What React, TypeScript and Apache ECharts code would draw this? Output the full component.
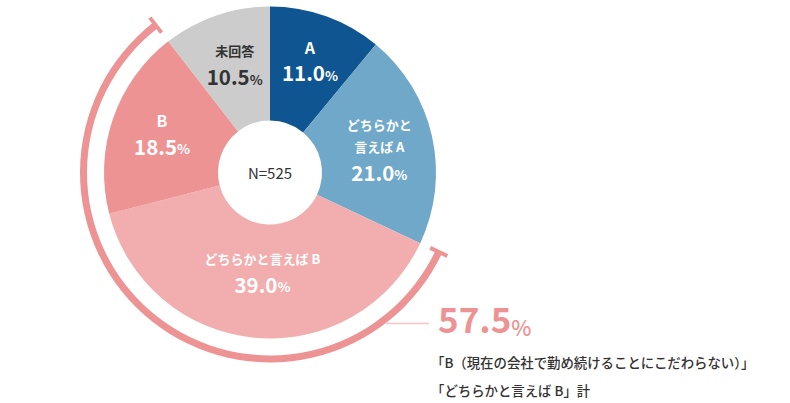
import React, { useEffect, useRef } from "react";
import * as echarts from "echarts";

const categories = ["A", "どちらかと言えばA", "どちらかと言えばB", "B", "未回答"];
const labelTexts = ["A", "どちらかと\n言えば A", "どちらかと言えば B", "B", "未回答"];
const values = [11.0, 21.0, 39.0, 18.5, 10.5];
const sampleSize = 525;
const groupIdx = [2, 3];
const noteLines = [
  "「B（現在の会社で勤め続けることにこだわらない）」",
  "「どちらかと言えば B」計",
];

const COLORS = ["#0e5592", "#6fa8c9", "#f2aeae", "#ee9393", "#cccccc"];
const PINK = "#ee9393";
const FONT = "'Noto Sans CJK JP', 'Noto Sans', sans-serif";
const CX = 270;
const CY = 172.5;
const R0 = 52;
const R1 = 166;
const AR0 = 183;
const AR1 = 190;
const LABEL_OFF = [
  [2, -8],
  [0, -0.5],
  [3, -13.5],
  [-2, -3.5],
  [1, -3.5],
];

export default function App() {
  const ref = useRef<HTMLDivElement>(null);
  useEffect(() => {
    if (!ref.current) return;
    const chart = echarts.init(ref.current, null, { renderer: "svg" });
    const total = values.reduce((a, b) => a + b, 0);
    const before = values.slice(0, groupIdx[0]).reduce((a, b) => a + b, 0);
    const groupSum = groupIdx.reduce((a, i) => a + values[i], 0);
    const startA = 90 - (before / total) * 360;
    const endA = startA - (groupSum / total) * 360;
    const tick = (aDeg: number) => {
      const a = (aDeg * Math.PI) / 180;
      const r1 = AR0 - 6;
      const r2 = AR1 + 6;
      return {
        type: "line",
        shape: {
          x1: CX + r1 * Math.cos(a),
          y1: CY - r1 * Math.sin(a),
          x2: CX + r2 * Math.cos(a),
          y2: CY - r2 * Math.sin(a),
        },
        style: { stroke: PINK, lineWidth: 4 },
      };
    };
    const pieData = categories.map((c, i) => ({
      name: c,
      value: values[i],
      itemStyle: { color: COLORS[i] },
    }));
    const mk = (color: string) => ({
      n: { color, fontSize: 13, fontWeight: "bold", lineHeight: 22, fontFamily: FONT },
      l: { color, fontSize: 16, fontWeight: "bold", lineHeight: 22, fontFamily: FONT },
      v: { color, fontSize: 20.5, fontWeight: "bold", lineHeight: 25, fontFamily: FONT, verticalAlign: "bottom" },
      p: { color, fontSize: 13.5, fontWeight: "bold", lineHeight: 25, fontFamily: FONT, verticalAlign: "bottom", padding: [0, 0, 1, 0] },
    });
    const white = mk("#fff");
    const dark = mk("#333");
    chart.setOption({
      animation: false,
      series: [
        {
          type: "pie",
          center: [CX, CY],
          radius: [R0, R1],
          startAngle: 90,
          clockwise: true,
          silent: true,
          data: pieData,
          itemStyle: { borderWidth: 0 },
          label: {
            show: true,
            position: "inside",
            fontFamily: FONT,
            formatter: (p: any) => {
              const d = p.dataIndex === 4 ? "d" : "";
              const lines = labelTexts[p.dataIndex]
                .split("\n")
                .map((l) => `{${d}${l.length === 1 ? "l" : "n"}|${l}}`)
                .join("\n");
              return `${lines}\n{${d}v|${values[p.dataIndex].toFixed(1)}}{${d}p|%}`;
            },
            rich: {
              ...white,
              dn: dark.n,
              dl: dark.l,
              dv: dark.v,
              dp: dark.p,
            },
          },
          labelLine: { show: false },
          labelLayout: (p: any) => ({ dx: LABEL_OFF[p.dataIndex][0], dy: LABEL_OFF[p.dataIndex][1] }),
        },
        {
          type: "pie",
          center: [CX, CY],
          radius: [AR0, AR1],
          startAngle: startA,
          clockwise: true,
          silent: true,
          label: { show: false },
          labelLine: { show: false },
          data: [
            { value: groupSum, itemStyle: { color: PINK } },
            { value: total - groupSum, itemStyle: { color: "rgba(0,0,0,0)" } },
          ],
        },
      ],
      graphic: [
        tick(startA),
        tick(endA),
        {
          type: "line",
          shape: { x1: 386, y1: 323.5, x2: 429, y2: 323.5 },
          style: { stroke: "#f5c4c4", lineWidth: 1.5 },
        },
        {
          type: "text",
          x: CX,
          y: CY,
          style: {
            text: `N=${sampleSize}`,
            fill: "#333",
            fontSize: 15,
            fontFamily: FONT,
            align: "center",
            verticalAlign: "middle",
          },
        },
        {
          type: "text",
          x: 438,
          y: 317,
          style: {
            text: `{a|${groupSum.toFixed(1)}}{b|%}`,
            align: "left",
            verticalAlign: "middle",
            rich: {
              a: { fill: PINK, fontSize: 35, fontWeight: "bold", fontFamily: FONT, lineHeight: 40 },
              b: { fill: PINK, fontSize: 21.5, fontWeight: 500, fontFamily: FONT, lineHeight: 36, verticalAlign: "bottom" },
            },
          },
        },
        ...noteLines.map((t, i) => ({
          type: "text",
          x: 431,
          y: 362 + i * 28,
          style: {
            text: t,
            fill: "#333",
            fontSize: 13.4,
            fontWeight: 500,
            fontFamily: FONT,
            align: "left",
            verticalAlign: "middle",
          },
        })),
      ],
    });
    return () => chart.dispose();
  }, []);
  return (
    <div
      ref={ref}
      style={{ position: "fixed", left: 0, top: 0, width: 790, height: 403, background: "#fff" }}
    />
  );
}
